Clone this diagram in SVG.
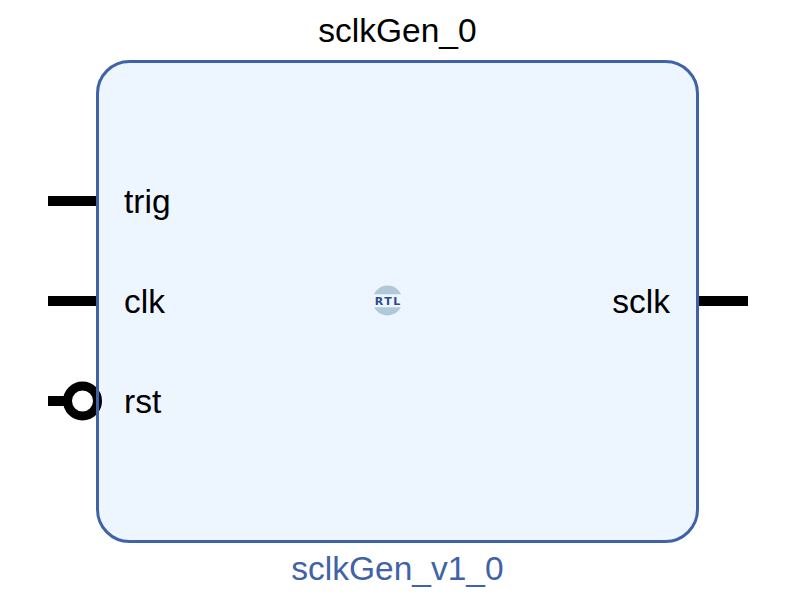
<svg xmlns="http://www.w3.org/2000/svg" width="793" height="600" viewBox="0 0 793 600">
<style>
text{font-family:"Liberation Sans",Arial,sans-serif;font-size:33.500px;fill:#000}
.pin{stroke:#000;stroke-width:10;fill:none}
</style>
<rect width="793" height="600" fill="#fff"/>
<g id="connectors">
<path class="pin" d="M48 201H98"/>
<path class="pin" d="M48 301H98"/>
<path class="pin" d="M48 401H68"/>
<path class="pin" d="M698 301H748"/>
</g>
<g id="block">
<rect x="97.500" y="61.500" width="600" height="480" rx="32" ry="32" fill="#edf5ff" stroke="#4063a5" stroke-width="3"/>
</g>
<g id="rst-bubble"><circle cx="82.500" cy="401" r="15" fill="#fff" stroke="#000" stroke-width="9"/>
<path d="M97.500 381V422" stroke="#4063a5" stroke-width="3"/></g>
<g id="title"><text x="397.500" y="42" text-anchor="middle">sclkGen_0</text></g>
<g id="subtitle"><text x="397.500" y="580" text-anchor="middle" style="fill:#4063a5">sclkGen_v1_0</text></g>
<g id="port-trig"><text x="124" y="213">trig</text></g>
<g id="port-clk"><text x="124" y="313">clk</text></g>
<g id="port-rst"><text x="124" y="413">rst</text></g>
<g id="port-sclk"><text x="670" y="313" text-anchor="end">sclk</text></g>
<g id="rtl-icon">
<circle cx="387.500" cy="300.500" r="15" fill="#b0c8d8"/>
<rect x="372" y="294.300" width="31" height="13" fill="#edf5ff"/>
<text x="388.200" y="305" text-anchor="middle" style="font-family:'DejaVu Sans',sans-serif;font-size:11px;font-weight:bold;fill:#2f4d85;letter-spacing:1.500px">RTL</text>
</g>
</svg>
